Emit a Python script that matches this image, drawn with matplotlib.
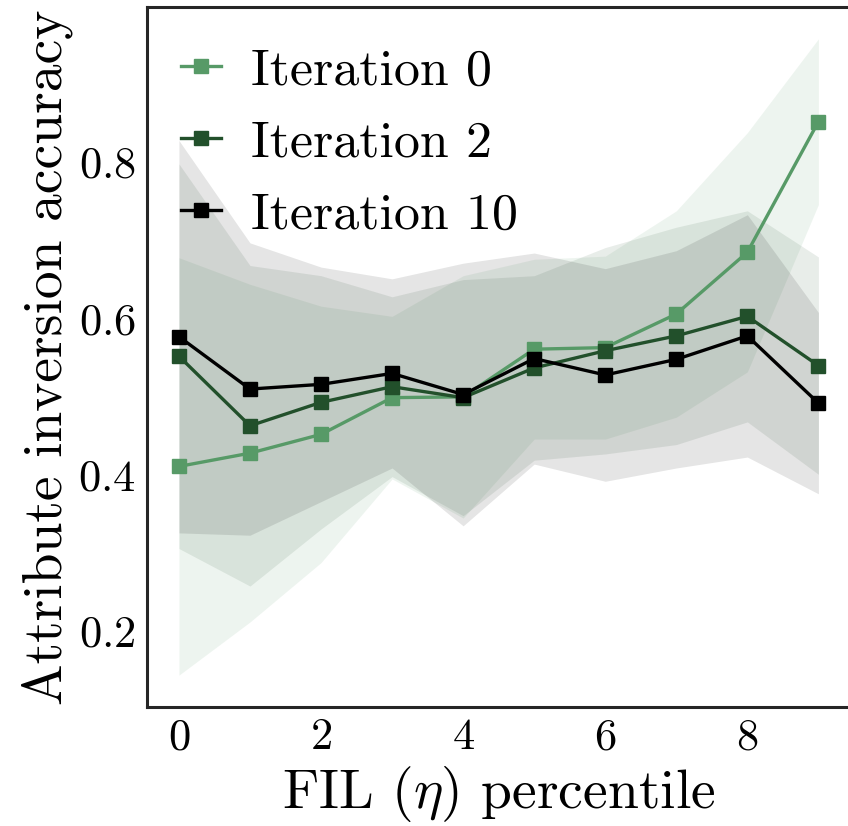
import numpy as np
import matplotlib.pyplot as plt

plt.rcParams['font.family'] = 'serif'
plt.rcParams['font.serif'] = ['cmr10']
plt.rcParams['mathtext.fontset'] = 'cm'
plt.rcParams['axes.formatter.use_mathtext'] = True

# FIL percentile bins
percentile = np.arange(10)

# mean attribute inversion accuracy per iteration
acc_iter0 = [0.411, 0.428, 0.452, 0.499, 0.500, 0.561, 0.563, 0.606, 0.685, 0.852]
acc_iter2 = [0.552, 0.463, 0.493, 0.513, 0.499, 0.537, 0.559, 0.578, 0.603, 0.540]
acc_iter10 = [0.577, 0.510, 0.516, 0.530, 0.503, 0.549, 0.528, 0.548, 0.578, 0.492]

# standard deviation (shaded band)
std_iter0 = [0.267, 0.216, 0.164, 0.104, 0.155, 0.115, 0.117, 0.132, 0.153, 0.106]
std_iter2 = [0.246, 0.205, 0.162, 0.115, 0.151, 0.118, 0.132, 0.139, 0.135, 0.139]
std_iter10 = [0.251, 0.187, 0.150, 0.121, 0.168, 0.135, 0.136, 0.139, 0.155, 0.116]

labels = ["Iteration 0", "Iteration 2", "Iteration 10"]
colors = ["#579a67", "#22502b", "#000000"]

fig = plt.figure(figsize=(8.48, 8.26), dpi=100)
ax = fig.add_axes([0.1733, 0.1441, 0.8295, 0.8474])

for mean, std, lab, c in zip([acc_iter0, acc_iter2, acc_iter10],
                             [std_iter0, std_iter2, std_iter10], labels, colors):
    mean = np.array(mean)
    std = np.array(std)
    ax.plot(percentile, mean, marker='s', ms=10, lw=2.4, color=c, label=lab)
    ax.fill_between(percentile, mean - std, mean + std, color=c, alpha=0.1, lw=0)

ax.set_xticks([0, 2, 4, 6, 8])
ax.set_yticks([0.2, 0.4, 0.6, 0.8])
ax.tick_params(labelsize=32, length=0, pad=8)
for s in ax.spines.values():
    s.set_color('#262626')
    s.set_linewidth(2.2)

ax.set_xlabel(r"FIL $(\eta)$ percentile", fontsize=40)
ax.set_ylabel("Attribute inversion accuracy", fontsize=40)
ax.legend(loc='upper left', bbox_to_anchor=(0, 0.99), fontsize=37.4, frameon=False,
          handlelength=0.77, handletextpad=0.58, labelspacing=0.49, borderaxespad=0.26)

fig.savefig("out.png", dpi=100)
